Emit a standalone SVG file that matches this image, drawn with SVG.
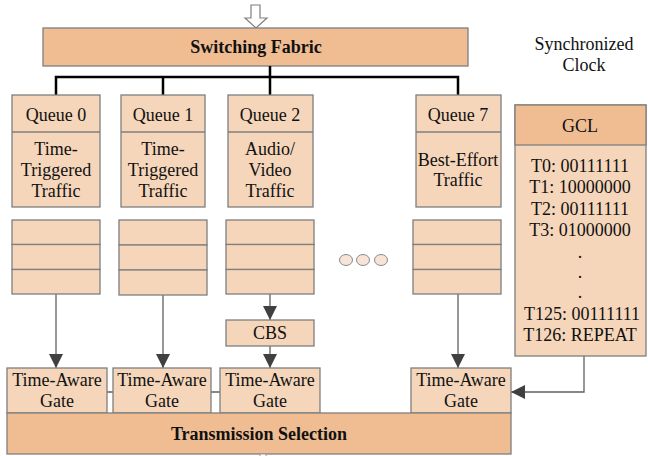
<svg xmlns="http://www.w3.org/2000/svg" width="648" height="456" viewBox="0 0 648 456">
<defs>
<style>
.dark{fill:#F0BD93;stroke:#7F7F7F;stroke-width:1.3}
.light{fill:#F5D6BA;stroke:#7F7F7F;stroke-width:1.3}
.t{font-family:"Liberation Serif","Times New Roman",serif;font-size:18px;fill:#111;text-anchor:middle}
.b{font-weight:bold}
.bus{stroke:#000;stroke-width:2.5;fill:none}
.arr{stroke:#606060;stroke-width:1.3;fill:none}
</style>
<marker id="ah" viewBox="0 0 10 10" refX="10" refY="5" markerWidth="14" markerHeight="14" markerUnits="userSpaceOnUse" orient="auto">
<path d="M0,0 L10,5 L0,10 Z" fill="#404040"/>
</marker>
</defs>
<rect width="648" height="456" fill="#fff"/>

<g id="input-arrow">
<path d="M251,5 H260 V18 H267 L256,28 L245,18 H251 Z" fill="#fff" stroke="#7F7F7F" stroke-width="1.2"/>
</g>

<g id="switching-fabric">
<rect class="dark" x="43" y="28" width="425" height="38"/>
<text class="t b" x="256" y="53">Switching Fabric</text>
</g>

<g id="sync-clock">
<text class="t" x="584" y="50">Synchronized</text>
<text class="t" x="584" y="71">Clock</text>
</g>

<g id="connectors">
<path class="bus" d="M270,66 V95 M56,95 V77 H458 V95 M163,77 V95"/>
<path class="arr" d="M56,294 V368" marker-end="url(#ah)"/>
<path class="arr" d="M163,295 V368" marker-end="url(#ah)"/>
<path class="arr" d="M270,294 V320" marker-end="url(#ah)"/>
<path class="arr" d="M270,346 V368" marker-end="url(#ah)"/>
<path class="arr" d="M458,294 V368" marker-end="url(#ah)"/>
<path class="arr" d="M584,356 V392 H511" marker-end="url(#ah)"/>
<path class="arr" d="M107,392 H113 M211,392 H220"/>
</g>

<g id="queue0">
<rect class="light" x="12" y="95" width="88" height="112"/>
<line x1="12" y1="132" x2="100" y2="132" stroke="#7F7F7F" stroke-width="1.3"/>
<text class="t" x="56" y="121">Queue 0</text>
<text class="t" x="56" y="155">Time-</text>
<text class="t" x="56" y="176">Triggered</text>
<text class="t" x="56" y="197">Traffic</text>
</g>

<g id="queue1">
<rect class="light" x="121" y="95" width="84" height="112"/>
<line x1="121" y1="132" x2="205" y2="132" stroke="#7F7F7F" stroke-width="1.3"/>
<text class="t" x="163" y="121">Queue 1</text>
<text class="t" x="163" y="155">Time-</text>
<text class="t" x="163" y="176">Triggered</text>
<text class="t" x="163" y="197">Traffic</text>
</g>

<g id="queue2">
<rect class="light" x="228" y="95" width="85" height="112"/>
<line x1="228" y1="132" x2="313" y2="132" stroke="#7F7F7F" stroke-width="1.3"/>
<text class="t" x="270" y="121">Queue 2</text>
<text class="t" x="270" y="155">Audio/</text>
<text class="t" x="270" y="176">Video</text>
<text class="t" x="270" y="197">Traffic</text>
</g>

<g id="queue7">
<rect class="light" x="416" y="95" width="85" height="112"/>
<line x1="416" y1="132" x2="501" y2="132" stroke="#7F7F7F" stroke-width="1.3"/>
<text class="t" x="458" y="121">Queue 7</text>
<text class="t" x="458" y="166">Best-Effort</text>
<text class="t" x="458" y="186">Traffic</text>
</g>

<g id="buffer0">
<rect class="light" x="12" y="220" width="88" height="24.5"/>
<rect class="light" x="12" y="244.5" width="88" height="25"/>
<rect class="light" x="12" y="269.5" width="88" height="24.5"/>
</g>
<g id="buffer1">
<rect class="light" x="119" y="220" width="88" height="25"/>
<rect class="light" x="119" y="245" width="88" height="25"/>
<rect class="light" x="119" y="270" width="88" height="25"/>
</g>
<g id="buffer2">
<rect class="light" x="226" y="220" width="88" height="24.5"/>
<rect class="light" x="226" y="244.5" width="88" height="25"/>
<rect class="light" x="226" y="269.5" width="88" height="24.5"/>
</g>
<g id="buffer7">
<rect class="light" x="413" y="220" width="88" height="24.5"/>
<rect class="light" x="413" y="244.5" width="88" height="25"/>
<rect class="light" x="413" y="269.5" width="88" height="24.5"/>
</g>

<g id="ellipsis">
<ellipse cx="346" cy="260" rx="6.5" ry="5.5" fill="#F8E4D6" stroke="#8A8A8A" stroke-width="1"/>
<ellipse cx="363" cy="260" rx="6.5" ry="5.5" fill="#F8E4D6" stroke="#8A8A8A" stroke-width="1"/>
<ellipse cx="381" cy="260" rx="6.5" ry="5.5" fill="#F8E4D6" stroke="#8A8A8A" stroke-width="1"/>
</g>

<g id="cbs">
<rect class="light" x="226" y="320" width="88" height="26"/>
<text class="t" x="270" y="339">CBS</text>
</g>

<g id="gcl">
<rect class="light" x="515" y="105" width="131" height="251"/>
<rect class="dark" x="515" y="105" width="131" height="40"/>
<text class="t" x="580" y="132">GCL</text>
<text class="t" x="580" y="172">T0: 00111111</text>
<text class="t" x="580" y="193">T1: 10000000</text>
<text class="t" x="580" y="215">T2: 00111111</text>
<text class="t" x="580" y="236">T3: 01000000</text>
<text class="t" x="580" y="258">.</text>
<text class="t" x="580" y="278">.</text>
<text class="t" x="580" y="298">.</text>
<text class="t" x="582" y="320">T125: 00111111</text>
<text class="t" x="580" y="341">T126: REPEAT</text>
</g>

<g id="gate0">
<rect class="light" x="7" y="368" width="100" height="45"/>
<text class="t" x="57" y="386">Time-Aware</text>
<text class="t" x="57" y="407">Gate</text>
</g>
<g id="gate1">
<rect class="light" x="113" y="368" width="98" height="45"/>
<text class="t" x="162" y="386">Time-Aware</text>
<text class="t" x="162" y="407">Gate</text>
</g>
<g id="gate2">
<rect class="light" x="220" y="368" width="100" height="45"/>
<text class="t" x="270" y="386">Time-Aware</text>
<text class="t" x="270" y="407">Gate</text>
</g>
<g id="gate7">
<rect class="light" x="411" y="368" width="100" height="45"/>
<text class="t" x="461" y="386">Time-Aware</text>
<text class="t" x="461" y="407">Gate</text>
</g>

<g id="transmission-selection">
<rect class="dark" x="7" y="413" width="504" height="41"/>
<text class="t b" x="259" y="440">Transmission Selection</text>
</g>

<g id="output-arrow">
<rect x="260" y="454" width="6" height="8" fill="#fff" stroke="#9A9A9A" stroke-width="1"/>
</g>
</svg>
